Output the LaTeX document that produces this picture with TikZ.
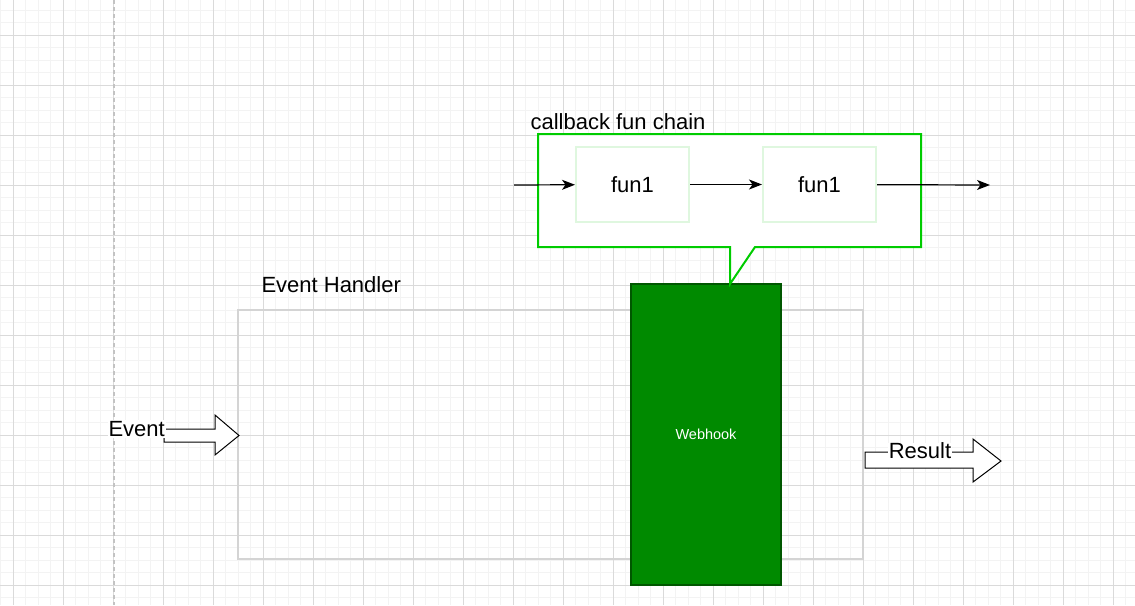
\documentclass[tikz,border=0pt]{standalone}
\usepackage{fontspec}
\setmainfont{Liberation Sans}
\usepackage{xcolor}
\usetikzlibrary{arrows.meta}
\definecolor{gridmajor}{HTML}{DADADA}
\definecolor{gridminor}{HTML}{F3F3F3}
\definecolor{hookfill}{HTML}{008A00}
\definecolor{hookline}{HTML}{005700}
\definecolor{chainline}{HTML}{00CC00}
\definecolor{funline}{HTML}{DFF7DF}
\definecolor{handlerline}{HTML}{D4D4D4}
\tikzset{
  bigtext/.style={font=\fontsize{22}{26}\selectfont},
  funbox/.style={draw=funline, line width=2pt, fill=white, minimum width=113pt, minimum height=75pt, inner sep=0pt, bigtext},
  chainarrow/.style={line width=1.2pt, -{Stealth[length=13pt,width=10pt,inset=3.5pt]}},
  blockarrow/.style={draw=black, line width=1pt, fill=white, line join=miter}
}

\begin{document}
\begin{tikzpicture}[x=1pt,y=-1pt]
\useasboundingbox (0,0) rectangle (1135,605);
\fill[white] (0,0) rectangle (1135,605);
\draw[gridminor, line width=1pt, shift={(13,35)}] (-13,-35) grid[step=12.5pt] (1122,570);
\draw[gridmajor, line width=1pt, shift={(13,35)}] (-13,-35) grid[step=50pt] (1122,570);
\draw[handlerline!80!gray, line width=1.5pt, dash pattern=on 4pt off 3pt] (114,0) -- (114,605);

\node[draw=handlerline, line width=2pt, minimum width=625pt, minimum height=249pt] (handler) at (550.5,434.5) {};
\node[bigtext, anchor=west] (handlerlabel) at (258,285) {Event Handler};

\node[draw=hookline, fill=hookfill, line width=2pt, minimum width=150pt, minimum height=301pt, text=white, font=\fontsize{14.5}{17}\selectfont] (webhook) at (706,434.5) {Webhook};

\draw[chainline, line width=2pt, fill=white, line join=miter] (538,134) -- (921,134) -- (921,247) -- (755,247) -- (730,284) -- (730,247) -- (538,247) -- cycle;
\node[bigtext, anchor=west] (chainlabel) at (527,122) {callback fun chain};

\node[funbox] (funA) at (632.5,184.5) {fun1};
\node[funbox] (funB) at (819.5,184.5) {fun1};
\coordinate (chainin) at (514,185);
\coordinate (chainout) at (990,185);
\draw[chainarrow] (chainin) -- (funA);
\draw[chainarrow] (funA) -- (funB);
\draw[chainarrow] (funB) -- (chainout);

% block arrows in and out of the handler
\draw[blockarrow] (164,429) -- (215,429) -- (215,415) -- (239,435.5) -- (215,455) -- (215,442) -- (164,442) -- cycle;
\node[bigtext, fill=white, inner sep=1pt, anchor=east] (eventlabel) at (166,429) {Event};
\draw[blockarrow] (865,452) -- (973,452) -- (973,439) -- (1001,461) -- (973,482) -- (973,468) -- (865,468) -- cycle;
\node[bigtext, fill=white, inner xsep=1pt, inner ysep=0pt] (resultlabel) at (920,451) {Result};
\end{tikzpicture}
\end{document}
